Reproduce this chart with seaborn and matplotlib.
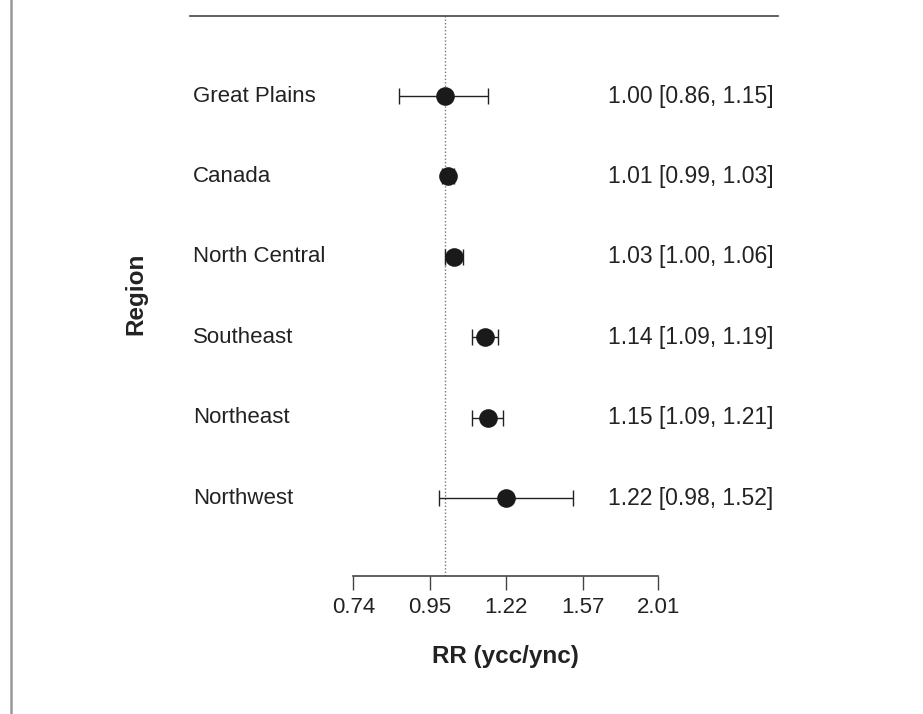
import numpy as np
import pandas as pd
import matplotlib
matplotlib.use("Agg")
import matplotlib.pyplot as plt
import matplotlib.transforms as mtransforms
import seaborn as sns

# ---- data ----
regions = ["Great Plains", "Canada", "North Central", "Southeast", "Northeast", "Northwest"]
rr = [1.00, 1.01, 1.03, 1.14, 1.15, 1.22]
ci_low = [0.86, 0.99, 1.00, 1.09, 1.09, 0.98]
ci_high = [1.15, 1.03, 1.06, 1.19, 1.21, 1.52]
xticks = [0.74, 0.95, 1.22, 1.57, 2.01]
xtick_labels = ["0.74", "0.95", "1.22", "1.57", "2.01"]

df = pd.DataFrame({"region": regions, "rr": rr, "lo": ci_low, "hi": ci_high})
df["pos"] = np.arange(len(df))

sns.set_theme(style="white")
plt.rcParams["font.family"] = ["Liberation Sans", "DejaVu Sans"]

W, H = 923, 714
fig = plt.figure(figsize=(W / 100, H / 100), dpi=100)

# layout in pixels
L, R, T, B = 190, 778, 16, 575.7
ax = fig.add_axes([L / W, (H - B) / H, (R - L) / W, (B - T) / H])

ink = "#1a1a1a"
# error bars
ax.errorbar(df["rr"], df["pos"], xerr=[df["rr"] - df["lo"], df["hi"] - df["rr"]],
            fmt="none", ecolor="#222222", elinewidth=1.0, capsize=6, capthick=1.0, zorder=2)
# points
sns.scatterplot(data=df, x="rr", y="pos", ax=ax, s=180, color=ink,
                edgecolor=ink, linewidth=0, zorder=3, legend=False)

ax.axvline(1.0, color="#777777", lw=1.0, ls=(0, (1, 1.5)), zorder=1)

ax.set_xscale("log")
x0 = np.exp(np.log(0.74) - (353.3 - L) / 305.2)
x1 = np.exp(np.log(2.01) + (R - 658.3) / 305.2)
ax.set_xlim(x0, x1)
ax.set_ylim(5 + (B - 498.3) / 80.45, -(96 - T) / 80.45)

ax.xaxis.set_minor_locator(matplotlib.ticker.NullLocator())
ax.set_xticks(xticks)
ax.set_xticklabels(xtick_labels, fontsize=16, color="#222222")
ax.tick_params(axis="x", length=10, width=1.0, color="#444444", pad=5, bottom=True)
ax.set_yticks([])
ax.set_xlabel("")
ax.set_ylabel("")

for s in ["left", "right"]:
    ax.spines[s].set_visible(False)
ax.spines["top"].set_color("#444444")
ax.spines["top"].set_linewidth(1.2)
ax.spines["bottom"].set_color("#444444")
ax.spines["bottom"].set_linewidth(1.2)
ax.spines["bottom"].set_bounds(0.74, 2.01)

trans = mtransforms.blended_transform_factory(ax.transAxes, ax.transData)
for _, r in df.iterrows():
    ax.text((193 - L) / (R - L), r["pos"], r["region"], transform=trans,
            ha="left", va="center", fontsize=16, color="#222222")
    ax.text((773.5 - L) / (R - L), r["pos"], f"{r['rr']:.2f} [{r['lo']:.2f}, {r['hi']:.2f}]",
            transform=trans, ha="right", va="center", fontsize=16.5, color="#222222")

fig.text(505.8 / W, 1 - 657 / H, "RR (ycc/ync)", ha="center", va="center",
         fontsize=17.5, fontweight="bold", color="#222222")
fig.text(136 / W, 1 - 294 / H, "Region", ha="center", va="center", rotation=90,
         fontsize=17.5, fontweight="bold", color="#222222")

# left page border
fig.add_artist(matplotlib.lines.Line2D([11 / W, 11 / W], [0, 1], transform=fig.transFigure,
                                       color="#999999", lw=1.8))

fig.savefig("out.png", dpi=100)
